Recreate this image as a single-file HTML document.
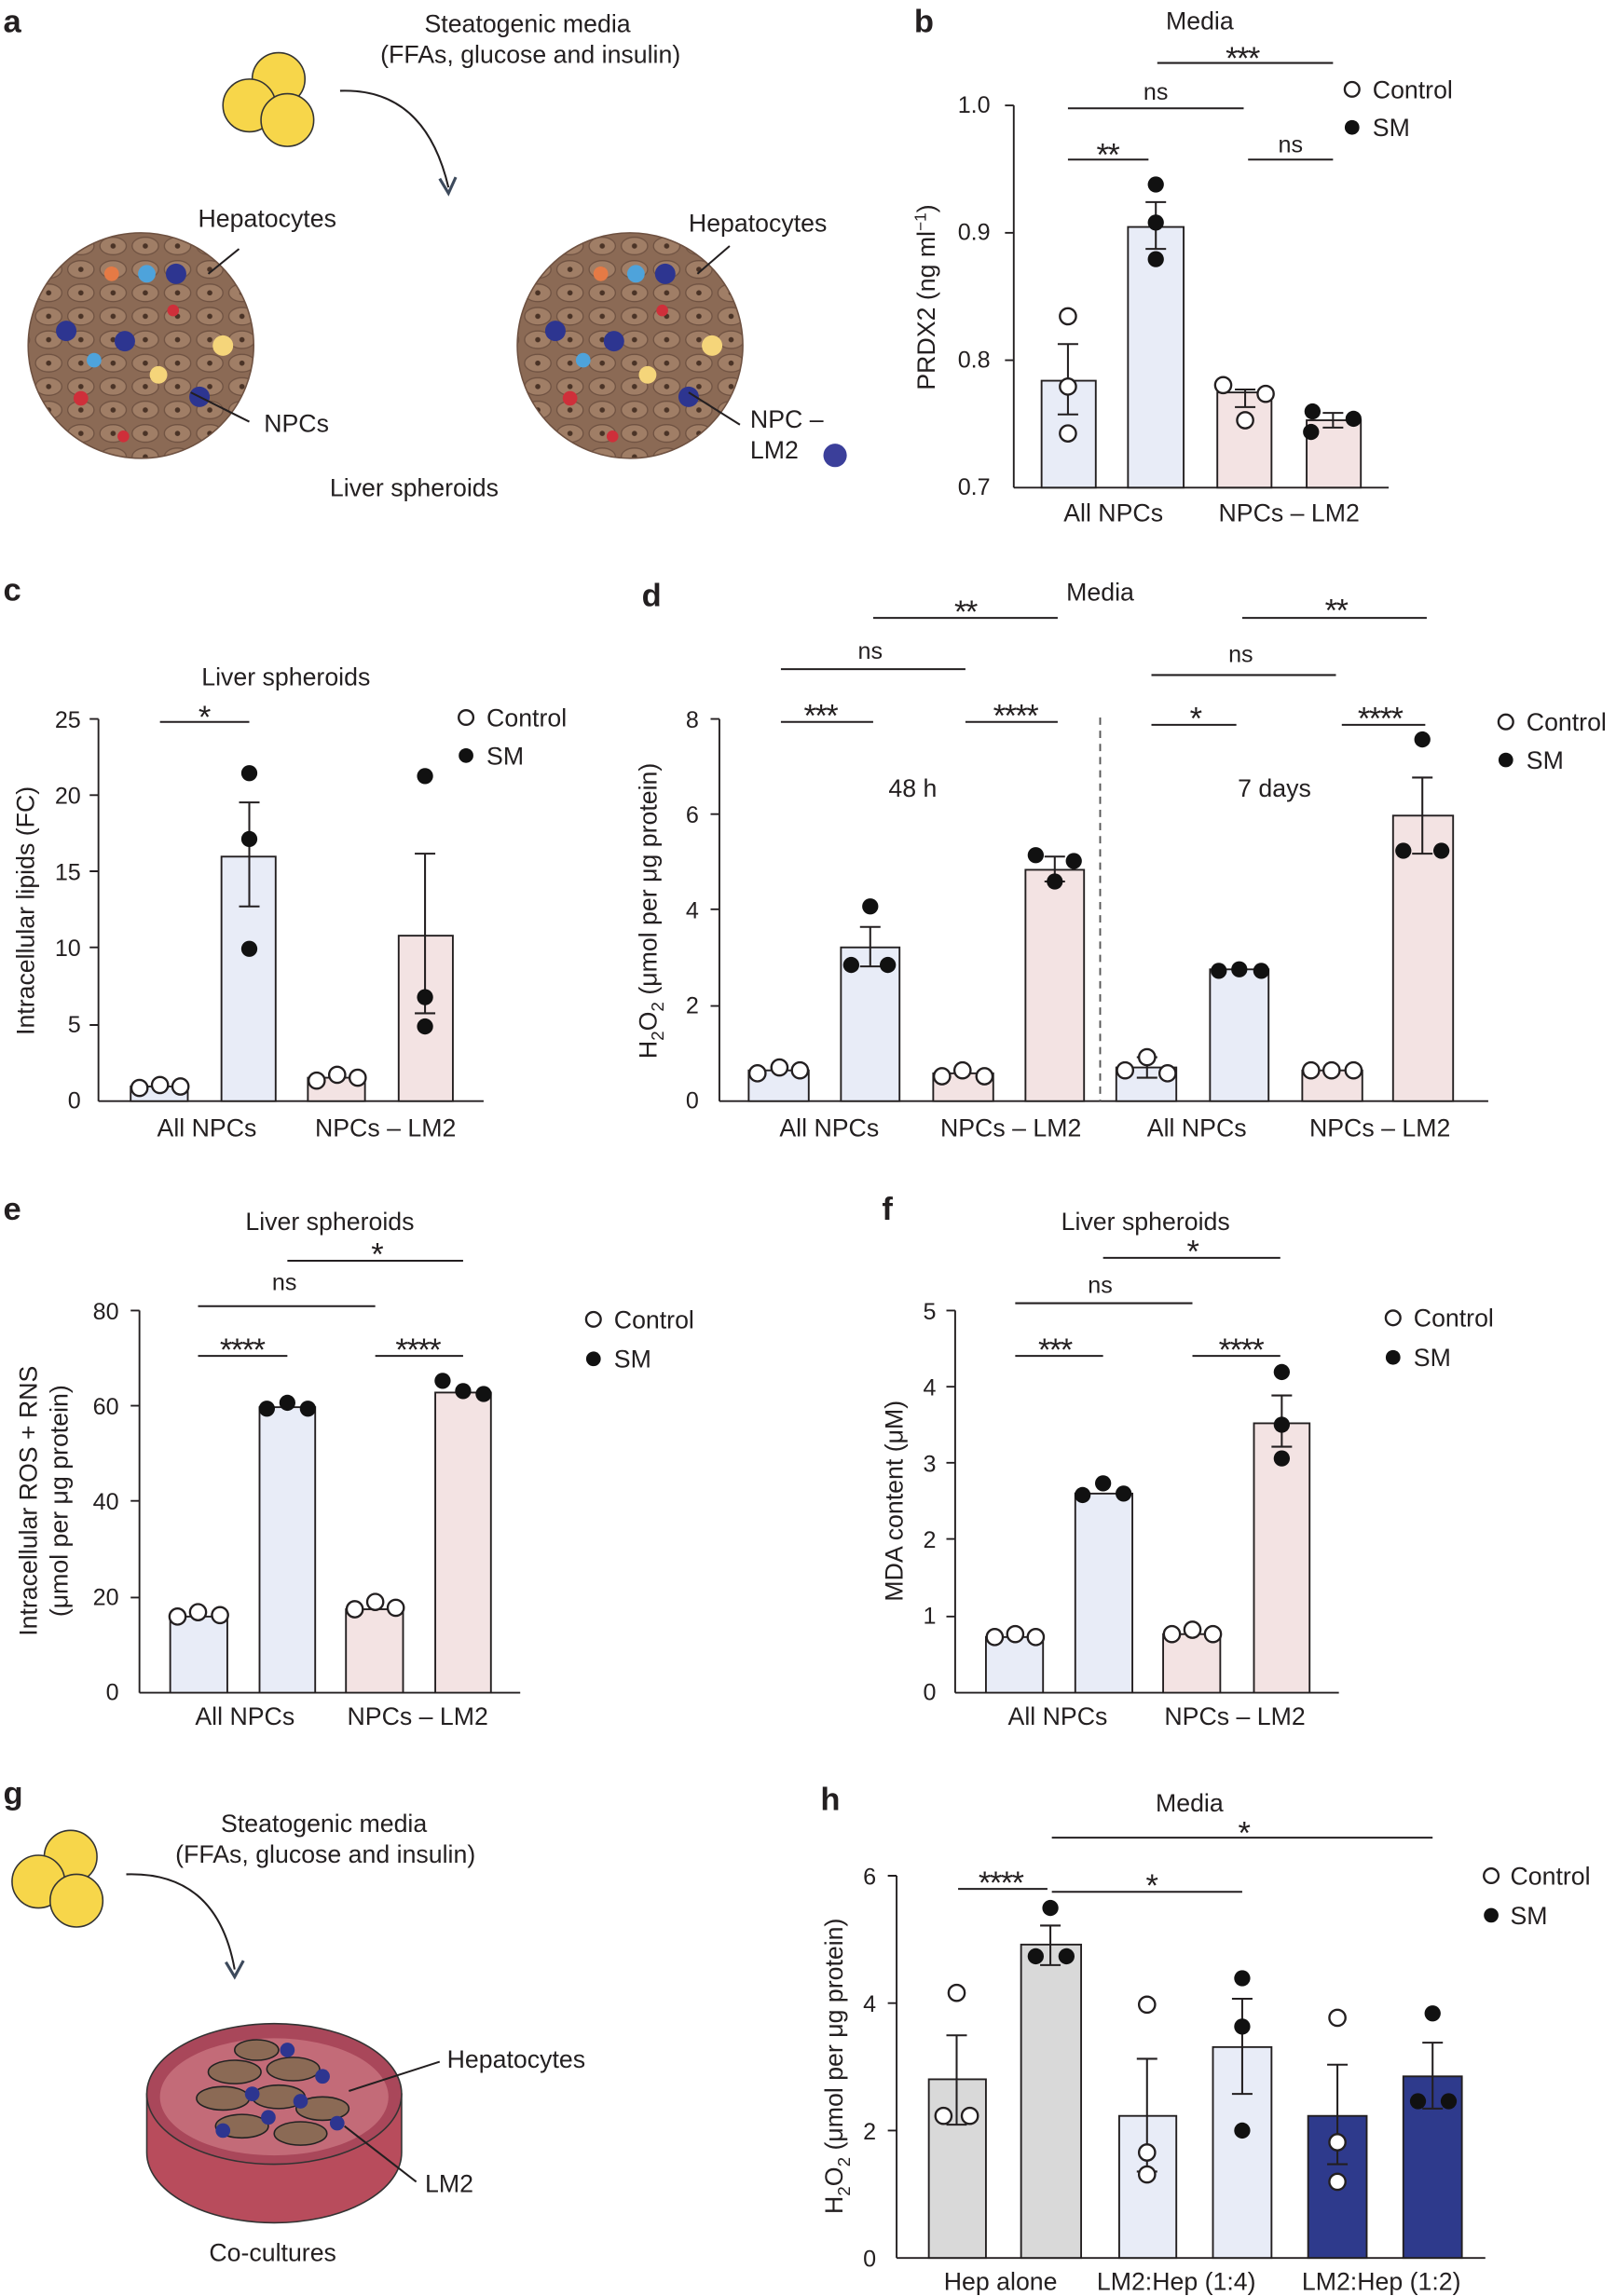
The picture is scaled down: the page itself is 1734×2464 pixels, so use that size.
<!DOCTYPE html>
<html><head><meta charset="utf-8"><style>
html,body{margin:0;padding:0;background:#fff}
svg{display:block}
text{font-family:"Liberation Sans",Arial,sans-serif;fill:#231f20}
.ax{stroke:#231f20;stroke-width:1.2;fill:none}
.b{stroke:#231f20;stroke-width:1.2}
.e{stroke:#231f20;stroke-width:1.3;fill:none}
.o{fill:#fff;stroke:#231f20;stroke-width:1.5}
.f{fill:#111}
.t{font-size:16px}
.l{font-size:17px}
.p{font-size:22px;font-weight:bold}
.s{font-size:16px}
.st{font-size:22px;letter-spacing:-1px}
</style></head><body>
<svg width="1734" height="2464" viewBox="0 0 1103 1568" xmlns="http://www.w3.org/2000/svg">
<defs>
<pattern id="cells" width="22" height="16" patternUnits="userSpaceOnUse">
<rect width="22" height="16" fill="#8b6a55"/>
<ellipse cx="11" cy="8" rx="9" ry="6" fill="#a07e66" stroke="#6e5141" stroke-width="0.8"/>
<circle cx="11" cy="8" r="1.8" fill="#4a3326"/>
</pattern>
</defs>
<!-- panel letters -->
<text x="2" y="22" class="p">a</text><text x="624" y="22" class="p">b</text>
<text x="2" y="410" class="p">c</text><text x="438" y="414" class="p">d</text>
<text x="2" y="833" class="p">e</text><text x="602" y="833" class="p">f</text>
<text x="2" y="1232" class="p">g</text><text x="560" y="1236" class="p">h</text>

<!-- panel a -->
<text x="360" y="22" class="l" text-anchor="middle">Steatogenic media</text>
<text x="362" y="43" class="l" text-anchor="middle">(FFAs, glucose and insulin)</text>
<circle cx="190" cy="54" r="18" fill="#f7d64a" stroke="#333"/><circle cx="170" cy="72" r="18" fill="#f7d64a" stroke="#333"/><circle cx="196" cy="82" r="18" fill="#f7d64a" stroke="#333"/>
<path d="M232 62 Q290 60 306 128" class="e" stroke="#3d4a5c" stroke-width="2"/>
<path d="M300 122 L306 132 L311 121" fill="none" stroke="#3d4a5c" stroke-width="2"/>
<g id="sph">
<circle cx="96" cy="236" r="77" fill="url(#cells)" stroke="#6e5141"/>
<circle cx="120" cy="187" r="7" fill="#2d3590"/><circle cx="45" cy="226" r="7" fill="#2d3590"/><circle cx="85" cy="233" r="7" fill="#2d3590"/><circle cx="136" cy="271" r="7" fill="#2d3590"/>
<circle cx="152" cy="236" r="7" fill="#f5d57a"/><circle cx="108" cy="256" r="6" fill="#f5d57a"/>
<circle cx="76" cy="187" r="5" fill="#e57a45"/><circle cx="100" cy="187" r="6" fill="#4ea3db"/><circle cx="64" cy="246" r="5" fill="#4ea3db"/><circle cx="55" cy="272" r="5" fill="#cf2f3a"/><circle cx="84" cy="298" r="4" fill="#cf2f3a"/><circle cx="118" cy="212" r="4" fill="#cf2f3a"/>
</g>
<use href="#sph" x="334" y="0"/>
<line x1="142" y1="187" x2="163" y2="170" class="e"/><text x="135" y="155" class="l">Hepatocytes</text>
<line x1="130" y1="268" x2="170" y2="288" class="e"/><text x="180" y="295" class="l">NPCs</text>
<text x="225" y="339" class="l">Liver spheroids</text>
<line x1="476" y1="187" x2="498" y2="168" class="e"/><text x="470" y="158" class="l">Hepatocytes</text>
<line x1="470" y1="268" x2="505" y2="290" class="e"/><text x="512" y="292" class="l">NPC –</text><text x="512" y="313" class="l">LM2</text>
<circle cx="570" cy="311" r="8" fill="#3b3f9a"/>

<!-- panel b -->
<text x="819" y="20" class="l" text-anchor="middle">Media</text>
<line x1="692" y1="72" x2="692" y2="333" class="ax"/><line x1="692" y1="333" x2="948" y2="333" class="ax"/>
<g class="t" text-anchor="end"><text x="676" y="77">1.0</text><text x="676" y="164">0.9</text><text x="676" y="251">0.8</text><text x="676" y="338">0.7</text></g>
<line x1="686" y1="72" x2="692" y2="72" class="ax"/><line x1="686" y1="159" x2="692" y2="159" class="ax"/><line x1="686" y1="246" x2="692" y2="246" class="ax"/>
<text transform="translate(638 203) rotate(-90)" class="l" text-anchor="middle">PRDX2 (ng ml<tspan dy="-6" font-size="11">−1</tspan><tspan dy="6">)</tspan></text>
<rect x="711" y="260" width="37" height="73" fill="#e8ecf7" class="b"/><rect x="770" y="155" width="38" height="178" fill="#e8ecf7" class="b"/>
<rect x="831" y="268" width="37" height="65" fill="#f3e3e3" class="b"/><rect x="892" y="287" width="37" height="46" fill="#f3e3e3" class="b"/>
<path d="M729 235V283M722 235H736M722 283H736M789 138V170M782 138H796M782 170H796M850 266V278M843 266H857M843 278H857M910 282V292M903 282H917M903 292H917" class="e"/>
<circle cx="729" cy="216" r="5.5" class="o"/><circle cx="729" cy="264" r="5.5" class="o"/><circle cx="729" cy="296" r="5.5" class="o"/>
<circle cx="789" cy="126" r="5.5" class="f"/><circle cx="789" cy="152" r="5.5" class="f"/><circle cx="789" cy="177" r="5.5" class="f"/>
<circle cx="835" cy="263" r="5.5" class="o"/><circle cx="864" cy="269" r="5.5" class="o"/><circle cx="850" cy="287" r="5.5" class="o"/>
<circle cx="896" cy="281" r="5.5" class="f"/><circle cx="924" cy="286" r="5.5" class="f"/><circle cx="895" cy="295" r="5.5" class="f"/>
<line x1="729" y1="109" x2="784" y2="109" class="e"/><text x="756" y="113" class="st" text-anchor="middle">**</text>
<line x1="729" y1="74" x2="849" y2="74" class="e"/><text x="789" y="68" class="s" text-anchor="middle">ns</text>
<line x1="852" y1="109" x2="910" y2="109" class="e"/><text x="881" y="104" class="s" text-anchor="middle">ns</text>
<line x1="790" y1="43" x2="910" y2="43" class="e"/><text x="848" y="47" class="st" text-anchor="middle">***</text>
<circle cx="923" cy="61" r="5" class="o"/><text x="937" y="67" class="l">Control</text>
<circle cx="923" cy="87" r="5" class="f"/><text x="937" y="93" class="l">SM</text>
<text x="760" y="356" class="l" text-anchor="middle">All NPCs</text><text x="880" y="356" class="l" text-anchor="middle">NPCs – LM2</text>

<!-- panel c -->
<text x="195" y="468" class="l" text-anchor="middle">Liver spheroids</text>
<line x1="67" y1="491" x2="67" y2="752" class="ax"/><line x1="67" y1="752" x2="330" y2="752" class="ax"/>
<g class="t" text-anchor="end"><text x="55" y="497">25</text><text x="55" y="549">20</text><text x="55" y="601">15</text><text x="55" y="653">10</text><text x="55" y="705">5</text><text x="55" y="757">0</text></g>
<path d="M61 491H67M61 543H67M61 595H67M61 647H67M61 700H67" class="ax"/>
<text transform="translate(23 622) rotate(-90)" class="l" text-anchor="middle">Intracellular lipids (FC)</text>
<rect x="89" y="742" width="39" height="10" fill="#e8ecf7" class="b"/><rect x="151" y="585" width="37" height="167" fill="#e8ecf7" class="b"/>
<rect x="210" y="736" width="39" height="16" fill="#f3e3e3" class="b"/><rect x="272" y="639" width="37" height="113" fill="#f3e3e3" class="b"/>
<path d="M170 548V619M163 548H177M163 619H177M290 583V692M283 583H297M283 692H297" class="e"/>
<circle cx="95" cy="743" r="5.5" class="o"/><circle cx="109" cy="741" r="5.5" class="o"/><circle cx="123" cy="742" r="5.5" class="o"/>
<circle cx="170" cy="528" r="5.5" class="f"/><circle cx="170" cy="573" r="5.5" class="f"/><circle cx="170" cy="648" r="5.5" class="f"/>
<circle cx="216" cy="738" r="5.5" class="o"/><circle cx="230" cy="734" r="5.5" class="o"/><circle cx="244" cy="736" r="5.5" class="o"/>
<circle cx="290" cy="530" r="5.5" class="f"/><circle cx="290" cy="681" r="5.5" class="f"/><circle cx="290" cy="701" r="5.5" class="f"/>
<line x1="109" y1="493" x2="170" y2="493" class="e"/><text x="139" y="497" class="st" text-anchor="middle">*</text>
<circle cx="318" cy="490" r="5" class="o"/><text x="332" y="496" class="l">Control</text>
<circle cx="318" cy="516" r="5" class="f"/><text x="332" y="522" class="l">SM</text>
<text x="141" y="776" class="l" text-anchor="middle">All NPCs</text><text x="263" y="776" class="l" text-anchor="middle">NPCs – LM2</text>

<!-- panel d -->
<text x="751" y="410" class="l" text-anchor="middle">Media</text>
<line x1="491" y1="491" x2="491" y2="752" class="ax"/><line x1="491" y1="752" x2="1016" y2="752" class="ax"/>
<g class="t" text-anchor="end"><text x="477" y="497">8</text><text x="477" y="562">6</text><text x="477" y="627">4</text><text x="477" y="692">2</text><text x="477" y="757">0</text></g>
<path d="M485 491H491M485 556H491M485 621H491M485 687H491" class="ax"/>
<text transform="translate(448 622) rotate(-90)" class="l" text-anchor="middle">H<tspan dy="5" font-size="12">2</tspan><tspan dy="-5">O</tspan><tspan dy="5" font-size="12">2</tspan><tspan dy="-5"> (μmol per μg protein)</tspan></text>
<line x1="751" y1="490" x2="751" y2="752" stroke="#555" stroke-dasharray="5 4" stroke-width="1.2"/>
<text x="623" y="544" class="l" text-anchor="middle">48 h</text><text x="870" y="544" class="l" text-anchor="middle">7 days</text>
<rect x="511" y="731" width="41" height="21" fill="#e8ecf7" class="b"/><rect x="574" y="647" width="40" height="105" fill="#e8ecf7" class="b"/>
<rect x="637" y="733" width="41" height="19" fill="#f3e3e3" class="b"/><rect x="700" y="594" width="40" height="158" fill="#f3e3e3" class="b"/>
<rect x="762" y="729" width="41" height="23" fill="#e8ecf7" class="b"/><rect x="826" y="662" width="40" height="90" fill="#e8ecf7" class="b"/>
<rect x="889" y="731" width="41" height="21" fill="#f3e3e3" class="b"/><rect x="951" y="557" width="41" height="195" fill="#f3e3e3" class="b"/>
<path d="M594 633V660M587 633H601M587 660H601M720 585V602M713 585H727M713 602H727M783 722V736M776 722H790M776 736H790M971 531V583M964 531H978M964 583H978" class="e"/>
<circle cx="517" cy="733" r="5.5" class="o"/><circle cx="532" cy="729" r="5.5" class="o"/><circle cx="546" cy="731" r="5.5" class="o"/>
<circle cx="594" cy="619" r="5.5" class="f"/><circle cx="581" cy="659" r="5.5" class="f"/><circle cx="606" cy="659" r="5.5" class="f"/>
<circle cx="643" cy="735" r="5.5" class="o"/><circle cx="657" cy="731" r="5.5" class="o"/><circle cx="672" cy="735" r="5.5" class="o"/>
<circle cx="707" cy="584" r="5.5" class="f"/><circle cx="733" cy="588" r="5.5" class="f"/><circle cx="720" cy="602" r="5.5" class="f"/>
<circle cx="768" cy="731" r="5.5" class="o"/><circle cx="783" cy="722" r="5.5" class="o"/><circle cx="797" cy="733" r="5.5" class="o"/>
<circle cx="832" cy="663" r="5.5" class="f"/><circle cx="846" cy="662" r="5.5" class="f"/><circle cx="861" cy="663" r="5.5" class="f"/>
<circle cx="895" cy="731" r="5.5" class="o"/><circle cx="909" cy="731" r="5.5" class="o"/><circle cx="924" cy="731" r="5.5" class="o"/>
<circle cx="971" cy="505" r="5.5" class="f"/><circle cx="958" cy="581" r="5.5" class="f"/><circle cx="984" cy="581" r="5.5" class="f"/>
<line x1="533" y1="493" x2="596" y2="493" class="e"/><text x="560" y="496" class="st" text-anchor="middle">***</text>
<line x1="659" y1="493" x2="722" y2="493" class="e"/><text x="693" y="496" class="st" text-anchor="middle">****</text>
<line x1="533" y1="457" x2="659" y2="457" class="e"/><text x="594" y="450" class="s" text-anchor="middle">ns</text>
<line x1="596" y1="422" x2="722" y2="422" class="e"/><text x="659" y="425" class="st" text-anchor="middle">**</text>
<line x1="786" y1="495" x2="844" y2="495" class="e"/><text x="816" y="498" class="st" text-anchor="middle">*</text>
<line x1="916" y1="495" x2="973" y2="495" class="e"/><text x="942" y="498" class="st" text-anchor="middle">****</text>
<line x1="786" y1="461" x2="912" y2="461" class="e"/><text x="847" y="452" class="s" text-anchor="middle">ns</text>
<line x1="848" y1="422" x2="974" y2="422" class="e"/><text x="912" y="424" class="st" text-anchor="middle">**</text>
<circle cx="1028" cy="493" r="5" class="o"/><text x="1042" y="499" class="l">Control</text>
<circle cx="1028" cy="519" r="5" class="f"/><text x="1042" y="525" class="l">SM</text>
<text x="566" y="776" class="l" text-anchor="middle">All NPCs</text><text x="690" y="776" class="l" text-anchor="middle">NPCs – LM2</text>
<text x="817" y="776" class="l" text-anchor="middle">All NPCs</text><text x="942" y="776" class="l" text-anchor="middle">NPCs – LM2</text>

<!-- panel e -->
<text x="225" y="840" class="l" text-anchor="middle">Liver spheroids</text>
<line x1="95" y1="895" x2="95" y2="1156" class="ax"/><line x1="95" y1="1156" x2="355" y2="1156" class="ax"/>
<g class="t" text-anchor="end"><text x="81" y="901">80</text><text x="81" y="966">60</text><text x="81" y="1031">40</text><text x="81" y="1096">20</text><text x="81" y="1161">0</text></g>
<path d="M89 895H95M89 960H95M89 1025H95M89 1091H95" class="ax"/>
<text transform="translate(25 1025) rotate(-90)" class="l" text-anchor="middle">Intracellular ROS + RNS</text>
<text transform="translate(46 1025) rotate(-90)" class="l" text-anchor="middle">(μmol per μg protein)</text>
<rect x="116" y="1104" width="39" height="52" fill="#e8ecf7" class="b"/><rect x="177" y="961" width="38" height="195" fill="#e8ecf7" class="b"/>
<rect x="236" y="1099" width="39" height="57" fill="#f3e3e3" class="b"/><rect x="297" y="951" width="38" height="205" fill="#f3e3e3" class="b"/>
<circle cx="121" cy="1104" r="5.5" class="o"/><circle cx="135" cy="1101" r="5.5" class="o"/><circle cx="150" cy="1103" r="5.5" class="o"/>
<circle cx="182" cy="962" r="5.5" class="f"/><circle cx="196" cy="958" r="5.5" class="f"/><circle cx="210" cy="962" r="5.5" class="f"/>
<circle cx="242" cy="1099" r="5.5" class="o"/><circle cx="256" cy="1094" r="5.5" class="o"/><circle cx="270" cy="1098" r="5.5" class="o"/>
<circle cx="302" cy="943" r="5.5" class="f"/><circle cx="316" cy="950" r="5.5" class="f"/><circle cx="330" cy="952" r="5.5" class="f"/>
<line x1="135" y1="926" x2="196" y2="926" class="e"/><text x="165" y="929" class="st" text-anchor="middle">****</text>
<line x1="256" y1="926" x2="316" y2="926" class="e"/><text x="285" y="929" class="st" text-anchor="middle">****</text>
<line x1="135" y1="892" x2="256" y2="892" class="e"/><text x="194" y="881" class="s" text-anchor="middle">ns</text>
<line x1="196" y1="861" x2="316" y2="861" class="e"/><text x="257" y="864" class="st" text-anchor="middle">*</text>
<circle cx="405" cy="901" r="5" class="o"/><text x="419" y="907" class="l">Control</text>
<circle cx="405" cy="928" r="5" class="f"/><text x="419" y="934" class="l">SM</text>
<text x="167" y="1178" class="l" text-anchor="middle">All NPCs</text><text x="285" y="1178" class="l" text-anchor="middle">NPCs – LM2</text>

<!-- panel f -->
<text x="782" y="840" class="l" text-anchor="middle">Liver spheroids</text>
<line x1="652" y1="895" x2="652" y2="1156" class="ax"/><line x1="652" y1="1156" x2="914" y2="1156" class="ax"/>
<g class="t" text-anchor="end"><text x="639" y="901">5</text><text x="639" y="953">4</text><text x="639" y="1005">3</text><text x="639" y="1057">2</text><text x="639" y="1109">1</text><text x="639" y="1161">0</text></g>
<path d="M646 895H652M646 947H652M646 999H652M646 1051H652M646 1104H652" class="ax"/>
<text transform="translate(616 1025) rotate(-90)" class="l" text-anchor="middle">MDA content (μM)</text>
<rect x="673" y="1118" width="39" height="38" fill="#e8ecf7" class="b"/><rect x="734" y="1020" width="39" height="136" fill="#e8ecf7" class="b"/>
<rect x="794" y="1116" width="39" height="40" fill="#f3e3e3" class="b"/><rect x="856" y="972" width="38" height="184" fill="#f3e3e3" class="b"/>
<path d="M875 953V988M868 953H882M868 988H882" class="e"/>
<circle cx="679" cy="1118" r="5.5" class="o"/><circle cx="693" cy="1116" r="5.5" class="o"/><circle cx="707" cy="1118" r="5.5" class="o"/>
<circle cx="739" cy="1021" r="5.5" class="f"/><circle cx="753" cy="1013" r="5.5" class="f"/><circle cx="767" cy="1020" r="5.5" class="f"/>
<circle cx="800" cy="1116" r="5.5" class="o"/><circle cx="814" cy="1113" r="5.5" class="o"/><circle cx="828" cy="1116" r="5.5" class="o"/>
<circle cx="875" cy="937" r="5.5" class="f"/><circle cx="875" cy="973" r="5.5" class="f"/><circle cx="875" cy="996" r="5.5" class="f"/>
<line x1="693" y1="926" x2="753" y2="926" class="e"/><text x="720" y="929" class="st" text-anchor="middle">***</text>
<line x1="814" y1="926" x2="874" y2="926" class="e"/><text x="847" y="929" class="st" text-anchor="middle">****</text>
<line x1="693" y1="890" x2="814" y2="890" class="e"/><text x="751" y="883" class="s" text-anchor="middle">ns</text>
<line x1="753" y1="859" x2="874" y2="859" class="e"/><text x="814" y="862" class="st" text-anchor="middle">*</text>
<circle cx="951" cy="900" r="5" class="o"/><text x="965" y="906" class="l">Control</text>
<circle cx="951" cy="927" r="5" class="f"/><text x="965" y="933" class="l">SM</text>
<text x="722" y="1178" class="l" text-anchor="middle">All NPCs</text><text x="843" y="1178" class="l" text-anchor="middle">NPCs – LM2</text>

<!-- panel g -->
<text x="221" y="1251" class="l" text-anchor="middle">Steatogenic media</text>
<text x="222" y="1272" class="l" text-anchor="middle">(FFAs, glucose and insulin)</text>
<circle cx="48" cy="1268" r="18" fill="#f7d64a" stroke="#333"/><circle cx="26" cy="1285" r="18" fill="#f7d64a" stroke="#333"/><circle cx="52" cy="1298" r="18" fill="#f7d64a" stroke="#333"/>
<path d="M86 1280 Q148 1278 160 1345" class="e" stroke="#3d4a5c" stroke-width="2"/>
<path d="M154 1340 L160 1350 L166 1339" fill="none" stroke="#3d4a5c" stroke-width="2"/>
<path d="M100 1430 V1470 A87 48 0 0 0 274 1470 V1430 Z" fill="#b84c5c" stroke="#333"/>
<ellipse cx="187" cy="1430" rx="87" ry="48" fill="#a9475a" stroke="#333"/>
<ellipse cx="187" cy="1432" rx="78" ry="40" fill="#c36b78"/>
<g fill="#8b6a55" stroke="#222">
<ellipse cx="160" cy="1415" rx="18" ry="8"/><ellipse cx="200" cy="1413" rx="18" ry="8"/><ellipse cx="152" cy="1433" rx="18" ry="8"/><ellipse cx="190" cy="1432" rx="18" ry="8"/><ellipse cx="220" cy="1440" rx="18" ry="8"/><ellipse cx="165" cy="1452" rx="18" ry="8"/><ellipse cx="205" cy="1457" rx="18" ry="8"/><ellipse cx="175" cy="1400" rx="15" ry="7"/>
</g>
<g fill="#2d3590"><circle cx="172" cy="1430" r="5"/><circle cx="220" cy="1418" r="5"/><circle cx="183" cy="1446" r="5"/><circle cx="152" cy="1455" r="5"/><circle cx="230" cy="1450" r="5"/><circle cx="205" cy="1435" r="5"/><circle cx="196" cy="1400" r="5"/></g>
<line x1="238" y1="1428" x2="300" y2="1408" class="e"/><text x="305" y="1412" class="l">Hepatocytes</text>
<line x1="235" y1="1452" x2="284" y2="1490" class="e"/><text x="290" y="1497" class="l">LM2</text>
<text x="186" y="1544" class="l" text-anchor="middle">Co-cultures</text>

<!-- panel h -->
<text x="812" y="1237" class="l" text-anchor="middle">Media</text>
<line x1="612" y1="1281" x2="612" y2="1542" class="ax"/><line x1="612" y1="1542" x2="1014" y2="1542" class="ax"/>
<g class="t" text-anchor="end"><text x="598" y="1287">6</text><text x="598" y="1374">4</text><text x="598" y="1461">2</text><text x="598" y="1548">0</text></g>
<path d="M606 1281H612M606 1368H612M606 1455H612" class="ax"/>
<text transform="translate(575 1411) rotate(-90)" class="l" text-anchor="middle">H<tspan dy="5" font-size="12">2</tspan><tspan dy="-5">O</tspan><tspan dy="5" font-size="12">2</tspan><tspan dy="-5"> (μmol per μg protein)</tspan></text>
<rect x="634" y="1420" width="39" height="122" fill="#d9d9d9" class="b"/><rect x="697" y="1328" width="41" height="214" fill="#d9d9d9" class="b"/>
<rect x="764" y="1445" width="39" height="97" fill="#e8ecf7" class="b"/><rect x="828" y="1398" width="40" height="144" fill="#e8ecf7" class="b"/>
<rect x="893" y="1445" width="40" height="97" fill="#2e3a8c" class="b"/><rect x="958" y="1418" width="40" height="124" fill="#2e3a8c" class="b"/>
<path d="M653 1390V1451M646 1390H660M646 1451H660M717 1315V1342M710 1315H724M710 1342H724M783 1406V1483M776 1406H790M776 1483H790M848 1365V1430M841 1365H855M841 1430H855M913 1410V1478M906 1410H920M906 1478H920M978 1395V1440M971 1395H985M971 1440H985" class="e"/>
<circle cx="653" cy="1361" r="5.5" class="o"/><circle cx="644" cy="1445" r="5.5" class="o"/><circle cx="662" cy="1445" r="5.5" class="o"/>
<circle cx="717" cy="1303" r="5.5" class="f"/><circle cx="707" cy="1336" r="5.5" class="f"/><circle cx="728" cy="1336" r="5.5" class="f"/>
<circle cx="783" cy="1369" r="5.5" class="o"/><circle cx="783" cy="1470" r="5.5" class="o"/><circle cx="783" cy="1485" r="5.5" class="o"/>
<circle cx="848" cy="1351" r="5.5" class="f"/><circle cx="848" cy="1384" r="5.5" class="f"/><circle cx="848" cy="1455" r="5.5" class="f"/>
<circle cx="913" cy="1378" r="5.5" class="o"/><circle cx="913" cy="1463" r="5.5" class="o"/><circle cx="913" cy="1490" r="5.5" class="o"/>
<circle cx="978" cy="1375" r="5.5" class="f"/><circle cx="968" cy="1435" r="5.5" class="f"/><circle cx="989" cy="1435" r="5.5" class="f"/>
<line x1="654" y1="1290" x2="715" y2="1290" class="e"/><text x="683" y="1293" class="st" text-anchor="middle">****</text>
<line x1="718" y1="1292" x2="848" y2="1292" class="e"/><text x="786" y="1295" class="st" text-anchor="middle">*</text>
<line x1="718" y1="1255" x2="978" y2="1255" class="e"/><text x="849" y="1259" class="st" text-anchor="middle">*</text>
<circle cx="1018" cy="1281" r="5" class="o"/><text x="1031" y="1287" class="l">Control</text>
<circle cx="1018" cy="1308" r="5" class="f"/><text x="1031" y="1314" class="l">SM</text>
<text x="683" y="1564" class="l" text-anchor="middle">Hep alone</text><text x="803" y="1564" class="l" text-anchor="middle">LM2:Hep (1:4)</text><text x="943" y="1564" class="l" text-anchor="middle">LM2:Hep (1:2)</text>
</svg>
</body></html>
